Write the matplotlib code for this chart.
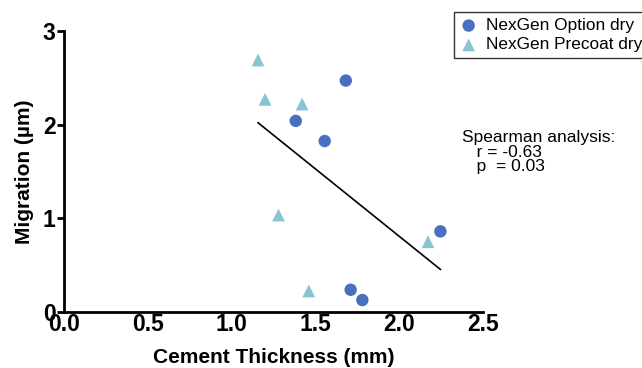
import matplotlib.pyplot as plt

plt.rcParams['font.family'] = ['Liberation Sans', 'DejaVu Sans']

# NexGen Option dry (circles)
option_x = [1.683, 1.384, 1.557, 2.248, 1.712, 1.782]
option_y = [2.47, 2.04, 1.825, 0.861, 0.238, 0.128]

# NexGen Precoat dry (triangles)
precoat_x = [1.159, 1.201, 1.422, 1.281, 1.462, 2.174]
precoat_y = [2.69, 2.27, 2.22, 1.035, 0.225, 0.75]

# regression line ends
fit_x = [1.159, 2.248]
fit_y = [2.02, 0.455]

xticks = [0.0, 0.5, 1.0, 1.5, 2.0, 2.5]
yticks = [0, 1, 2, 3]

fig = plt.figure(figsize=(6.42, 3.68), dpi=100)
ax = fig.add_axes([0.0997, 0.152, 0.652, 0.764])

h1 = ax.scatter(option_x, option_y, s=80, marker='o', color='#4a6fc0',
                edgecolors='none', label='NexGen Option dry', zorder=3, clip_on=False)
h2 = ax.scatter(precoat_x, precoat_y, s=85, marker='^', color='#86c6d3',
                edgecolors='none', label='NexGen Precoat dry', zorder=3, clip_on=False)
ax.plot(fit_x, fit_y, color='black', linewidth=1.2)

ax.set_xlim(0, 2.5)
ax.set_ylim(0, 3)
ax.set_xticks(xticks)
ax.set_xticklabels([f'{v:.1f}' for v in xticks])
ax.set_yticks(yticks)

for s in ['top', 'right']:
    ax.spines[s].set_visible(False)
for s in ['left', 'bottom']:
    ax.spines[s].set_linewidth(2)

ax.tick_params(axis='y', direction='out', length=5, width=2, labelsize=16.5, pad=1)
ax.tick_params(axis='x', direction='out', length=0, width=2, labelsize=16.5, pad=1)
for lbl in ax.get_xticklabels() + ax.get_yticklabels():
    lbl.set_fontweight('bold')

ax.set_xlabel('Cement Thickness (mm)', fontsize=15, fontweight='bold', labelpad=8)
ax.set_ylabel('Migration (µm)', fontsize=15, fontweight='bold', labelpad=6)

ax.text(2.38, 1.94, 'Spearman analysis:\n   r = -0.63\n   p  = 0.03',
        fontsize=12.5, linespacing=0.95, va='top', ha='left')

leg = fig.legend(handles=[h1, h2], loc='upper left',
                 bbox_to_anchor=(454 / 642, 1 - 12 / 368), fontsize=12.4,
                 frameon=True, fancybox=False, borderpad=0.35, handletextpad=0.5,
                 labelspacing=0.25, handlelength=1.0, borderaxespad=0)
leg.get_frame().set_edgecolor('black')
leg.get_frame().set_linewidth(1.0)

fig.savefig('out.png', dpi=100)
